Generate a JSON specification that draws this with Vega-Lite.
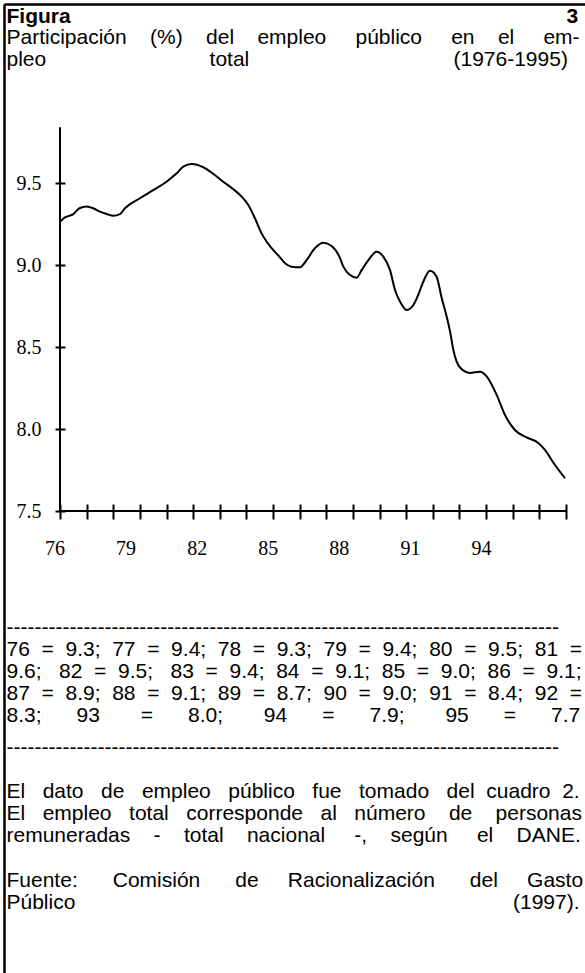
{
  "$schema": "https://vega.github.io/schema/vega-lite/v6.json",
  "width": 581,
  "height": 969,
  "autosize": {"type": "none"},
  "padding": {"left": 4, "top": 4, "right": 0, "bottom": 0},
  "background": "white",
  "config": {"view": {"stroke": null}, "axis": {"grid": false}},
  "resolve": {"axis": {"x": "independent", "y": "independent"}},
  "layer": [
    {
      "data": {"values": [
        {"year": 76.00, "pct": 9.264}, {"year": 76.19, "pct": 9.29}, {"year": 76.50, "pct": 9.31}, {"year": 76.73, "pct": 9.346},
        {"year": 77.00, "pct": 9.356}, {"year": 77.25, "pct": 9.346}, {"year": 77.50, "pct": 9.325}, {"year": 77.75, "pct": 9.311},
        {"year": 78.00, "pct": 9.30}, {"year": 78.25, "pct": 9.31}, {"year": 78.44, "pct": 9.346}, {"year": 79.00, "pct": 9.407},
        {"year": 79.50, "pct": 9.457}, {"year": 80.00, "pct": 9.508}, {"year": 80.38, "pct": 9.559}, {"year": 80.63, "pct": 9.60},
        {"year": 80.95, "pct": 9.616}, {"year": 81.38, "pct": 9.596}, {"year": 81.76, "pct": 9.555}, {"year": 82.13, "pct": 9.508},
        {"year": 82.51, "pct": 9.462}, {"year": 82.82, "pct": 9.417}, {"year": 83.07, "pct": 9.366}, {"year": 83.32, "pct": 9.285},
        {"year": 83.57, "pct": 9.193}, {"year": 83.76, "pct": 9.142}, {"year": 84.01, "pct": 9.091}, {"year": 84.26, "pct": 9.047},
        {"year": 84.45, "pct": 9.010}, {"year": 84.70, "pct": 8.990}, {"year": 85.01, "pct": 8.986}, {"year": 85.26, "pct": 9.030},
        {"year": 85.57, "pct": 9.102}, {"year": 85.89, "pct": 9.136}, {"year": 86.20, "pct": 9.116}, {"year": 86.51, "pct": 9.044},
        {"year": 86.64, "pct": 8.990}, {"year": 86.89, "pct": 8.939}, {"year": 87.14, "pct": 8.923}, {"year": 87.33, "pct": 8.970},
        {"year": 87.58, "pct": 9.030}, {"year": 87.89, "pct": 9.081}, {"year": 88.14, "pct": 9.051}, {"year": 88.39, "pct": 8.970},
        {"year": 88.58, "pct": 8.848}, {"year": 88.77, "pct": 8.776}, {"year": 89.02, "pct": 8.726}, {"year": 89.27, "pct": 8.756},
        {"year": 89.45, "pct": 8.817}, {"year": 89.64, "pct": 8.898}, {"year": 89.89, "pct": 8.965}, {"year": 90.14, "pct": 8.929},
        {"year": 90.33, "pct": 8.80}, {"year": 90.52, "pct": 8.685}, {"year": 90.64, "pct": 8.60}, {"year": 90.77, "pct": 8.482},
        {"year": 91.02, "pct": 8.375}, {"year": 91.40, "pct": 8.342}, {"year": 91.77, "pct": 8.349}, {"year": 92.02, "pct": 8.321},
        {"year": 92.40, "pct": 8.207}, {"year": 92.71, "pct": 8.085}, {"year": 93.08, "pct": 7.994}, {"year": 93.52, "pct": 7.949},
        {"year": 93.96, "pct": 7.915}, {"year": 94.21, "pct": 7.872}, {"year": 94.52, "pct": 7.796}, {"year": 94.96, "pct": 7.70}
      ]},
      "mark": {"type": "line", "color": "black", "strokeWidth": 2, "interpolate": "monotone"},
      "encoding": {
        "x": {
          "field": "year", "type": "quantitative",
          "scale": {"domain": [73.8973, 95.7132], "nice": false, "zero": false},
          "axis": {
            "orient": "bottom", "offset": -469, "domain": false,
            "values": [76, 77, 78, 79, 80, 81, 82, 83, 84, 85, 86, 87, 88, 89, 90, 91, 92, 93, 94, 95],
            "format": "d",
            "ticks": true, "tickSize": 15, "tickWidth": 2, "tickColor": "black",
            "labelExpr": "datum.value % 3 == 1 ? datum.label : ''",
            "labelFont": "Liberation Serif", "labelFontSize": 20, "labelColor": "black",
            "labelBaseline": "middle", "labelPadding": 29,
            "labelOffset": {"expr": "-5.5 - 2.94 * (datum.value - 76)"},
            "labelOverlap": false, "labelFlush": false, "labelBound": false,
            "grid": false,
            "title": [
              "-------------------------------------------------------------------------------",
              "76\u00a0\u00a0=\u00a0\u00a09.3;\u00a0\u00a077\u00a0\u00a0=\u00a0\u00a09.4;\u00a0\u00a078\u00a0\u00a0=\u00a0\u00a09.3;\u00a0\u00a079\u00a0\u00a0=\u00a0\u00a09.4;\u00a0\u00a080\u00a0\u00a0=\u00a0\u00a09.5;\u00a0\u00a081\u00a0\u00a0=",
              "9.6;\u00a0\u00a0\u00a082\u00a0\u00a0=\u00a0\u00a09.5;\u00a0\u00a0\u00a083\u00a0\u00a0=\u00a0\u00a09.4;\u00a0\u00a084\u00a0\u00a0=\u00a0\u00a09.1;\u00a0\u00a085\u00a0\u00a0=\u00a0\u00a09.0;\u00a0\u00a086\u00a0\u00a0=\u00a0\u00a09.1;",
              "87\u00a0\u00a0=\u00a0\u00a08.9;\u00a0\u00a088\u00a0\u00a0=\u00a0\u00a09.1;\u00a0\u00a089\u00a0\u00a0=\u00a0\u00a08.7;\u00a0\u00a090\u00a0\u00a0=\u00a0\u00a09.0;\u00a0\u00a091\u00a0\u00a0=\u00a0\u00a08.4;\u00a0\u00a092\u00a0\u00a0=",
              "8.3;\u00a0\u00a0\u00a0\u00a0\u00a0\u00a093\u00a0\u00a0\u00a0\u00a0\u00a0\u00a0\u00a0=\u00a0\u00a0\u00a0\u00a0\u00a0\u00a08.0;\u00a0\u00a0\u00a0\u00a0\u00a0\u00a0\u00a094\u00a0\u00a0\u00a0\u00a0\u00a0\u00a0=\u00a0\u00a0\u00a0\u00a0\u00a0\u00a07.9;\u00a0\u00a0\u00a0\u00a0\u00a0\u00a0\u00a095\u00a0\u00a0\u00a0\u00a0\u00a0\u00a0=\u00a0\u00a0\u00a0\u00a0\u00a0\u00a07.7"
            ],
            "titleFont": "Liberation Sans", "titleFontSize": 21, "titleFontWeight": "normal", "titleColor": "black",
            "titleAlign": "left", "titleBaseline": "alphabetic", "titleAngle": 0, "titleLineHeight": 22.2,
            "titleX": 2, "titleY": 129, "titleLimit": 2000, "titleAnchor": "start"
          }
        },
        "y": {
          "field": "pct", "type": "quantitative",
          "scale": {"domain": [4.6829, 10.5915], "nice": false, "zero": false},
          "axis": {
            "orient": "left", "offset": -61, "domain": false,
            "values": [7.5, 8, 8.5, 9, 9.5], "format": ".1f",
            "ticks": true, "tickSize": 10, "tickWidth": 2, "tickColor": "black",
            "labelFont": "Liberation Serif", "labelFontSize": 20, "labelColor": "black",
            "labelPadding": 14, "labelBaseline": "middle", "labelAlign": "right",
            "labelOverlap": false, "labelFlush": false, "labelBound": false,
            "grid": false,
            "title": [
              "-------------------------------------------------------------------------------",
              "\u200b",
              "El\u00a0\u00a0\u00a0dato\u00a0\u00a0\u00a0de\u00a0\u00a0\u00a0empleo\u00a0\u00a0\u00a0público\u00a0\u00a0\u00a0fue\u00a0\u00a0\u00a0tomado\u00a0\u00a0\u00a0del\u00a0\u00a0cuadro\u00a0\u00a02.",
              "El\u00a0\u00a0\u00a0empleo\u00a0\u00a0\u00a0total\u00a0\u00a0\u00a0corresponde\u00a0\u00a0\u00a0al\u00a0\u00a0\u00a0número\u00a0\u00a0\u00a0\u00a0de\u00a0\u00a0\u00a0\u00a0personas",
              "remuneradas\u00a0\u00a0\u00a0\u00a0-\u00a0\u00a0\u00a0\u00a0total\u00a0\u00a0\u00a0\u00a0nacional\u00a0\u00a0\u00a0\u00a0\u00a0-,\u00a0\u00a0\u00a0\u00a0según\u00a0\u00a0\u00a0\u00a0\u00a0el\u00a0\u00a0\u00a0\u00a0DANE.",
              "\u200b",
              "Fuente:\u00a0\u00a0\u00a0\u00a0\u00a0\u00a0Comisión\u00a0\u00a0\u00a0\u00a0\u00a0\u00a0de\u00a0\u00a0\u00a0\u00a0\u00a0Racionalización\u00a0\u00a0\u00a0\u00a0\u00a0\u00a0del\u00a0\u00a0\u00a0\u00a0\u00a0Gasto",
              "Público\u00a0\u00a0\u00a0\u00a0\u00a0\u00a0\u00a0\u00a0\u00a0\u00a0\u00a0\u00a0\u00a0\u00a0\u00a0\u00a0\u00a0\u00a0\u00a0\u00a0\u00a0\u00a0\u00a0\u00a0\u00a0\u00a0\u00a0\u00a0\u00a0\u00a0\u00a0\u00a0\u00a0\u00a0\u00a0\u00a0\u00a0\u00a0\u00a0\u00a0\u00a0\u00a0\u00a0\u00a0\u00a0\u00a0\u00a0\u00a0\u00a0\u00a0\u00a0\u00a0\u00a0\u00a0\u00a0\u00a0\u00a0\u00a0\u00a0\u00a0\u00a0\u00a0\u00a0\u00a0\u00a0\u00a0\u00a0\u00a0\u00a0\u00a0\u00a0\u00a0\u00a0\u00a0\u00a0(1997)."
            ],
            "titleFont": "Liberation Sans", "titleFontSize": 21, "titleFontWeight": "normal", "titleColor": "black",
            "titleAlign": "left", "titleBaseline": "alphabetic", "titleAngle": 0, "titleLineHeight": 22.2,
            "titleX": -59, "titleY": 749, "titleLimit": 2000, "titleAnchor": "start"
          }
        }
      }
    },
    {
      "data": {"values": [
        {"x1": 76, "x2": 95, "y1": 7.5, "y2": 7.5},
        {"x1": 76, "x2": 76, "y1": 7.5, "y2": 9.84}
      ]},
      "mark": {"type": "rule", "color": "black", "strokeWidth": 2},
      "encoding": {
        "x": {
          "field": "x1", "type": "quantitative",
          "scale": {"domain": [73.8973, 95.7132], "nice": false, "zero": false},
          "axis": {
            "orient": "top", "offset": 0, "domain": true, "domainColor": "black", "domainWidth": 2.5,
            "ticks": false, "labels": false, "grid": false,
            "title": "Figura\u00a0\u00a0\u00a0\u00a0\u00a0\u00a0\u00a0\u00a0\u00a0\u00a0\u00a0\u00a0\u00a0\u00a0\u00a0\u00a0\u00a0\u00a0\u00a0\u00a0\u00a0\u00a0\u00a0\u00a0\u00a0\u00a0\u00a0\u00a0\u00a0\u00a0\u00a0\u00a0\u00a0\u00a0\u00a0\u00a0\u00a0\u00a0\u00a0\u00a0\u00a0\u00a0\u00a0\u00a0\u00a0\u00a0\u00a0\u00a0\u00a0\u00a0\u00a0\u00a0\u00a0\u00a0\u00a0\u00a0\u00a0\u00a0\u00a0\u00a0\u00a0\u00a0\u00a0\u00a0\u00a0\u00a0\u00a0\u00a0\u00a0\u00a0\u00a0\u00a0\u00a0\u00a0\u00a0\u00a0\u00a0\u00a0\u00a0\u00a0\u00a0\u00a0\u00a0\u00a0\u00a03",
            "titleFont": "Liberation Sans", "titleFontSize": 21, "titleFontWeight": "bold", "titleColor": "black",
            "titleAlign": "left", "titleBaseline": "alphabetic", "titleAngle": 0,
            "titleX": 2, "titleY": 18.5, "titleLimit": 2000, "titleAnchor": "start"
          }
        },
        "x2": {"field": "x2"},
        "y": {
          "field": "y1", "type": "quantitative",
          "scale": {"domain": [4.6829, 10.5915], "nice": false, "zero": false},
          "axis": {
            "orient": "left", "offset": 0, "domain": true, "domainColor": "black", "domainWidth": 2.5,
            "ticks": false, "labels": false, "grid": false,
            "title": [
              "Participación\u00a0\u00a0\u00a0\u00a0(%)\u00a0\u00a0\u00a0\u00a0del\u00a0\u00a0\u00a0\u00a0empleo\u00a0\u00a0\u00a0\u00a0\u00a0público\u00a0\u00a0\u00a0\u00a0\u00a0en\u00a0\u00a0\u00a0\u00a0el\u00a0\u00a0\u00a0\u00a0\u00a0em-",
              "pleo\u00a0\u00a0\u00a0\u00a0\u00a0\u00a0\u00a0\u00a0\u00a0\u00a0\u00a0\u00a0\u00a0\u00a0\u00a0\u00a0\u00a0\u00a0\u00a0\u00a0\u00a0\u00a0\u00a0\u00a0\u00a0\u00a0\u00a0\u00a0total\u00a0\u00a0\u00a0\u00a0\u00a0\u00a0\u00a0\u00a0\u00a0\u00a0\u00a0\u00a0\u00a0\u00a0\u00a0\u00a0\u00a0\u00a0\u00a0\u00a0\u00a0\u00a0\u00a0\u00a0\u00a0\u00a0\u00a0\u00a0\u00a0\u00a0\u00a0\u00a0\u00a0\u00a0\u00a0(1976-1995)"
            ],
            "titleFont": "Liberation Sans", "titleFontSize": 21, "titleFontWeight": "normal", "titleColor": "black",
            "titleAlign": "left", "titleBaseline": "alphabetic", "titleAngle": 0, "titleLineHeight": 22,
            "titleX": 2, "titleY": 39.5, "titleLimit": 2000, "titleAnchor": "start"
          }
        },
        "y2": {"field": "y2"}
      }
    }
  ]
}
